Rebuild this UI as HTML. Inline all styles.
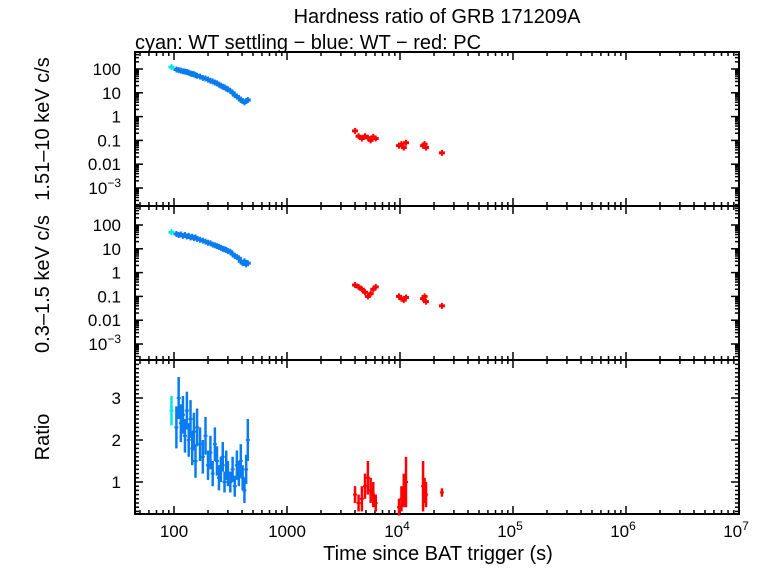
<!DOCTYPE html>
<html><head><meta charset="utf-8"><style>
body{margin:0;background:#fff}
svg text{font-family:"Liberation Sans",sans-serif;fill:#000}
</style></head><body>
<svg id="c" width="768" height="566" xmlns="http://www.w3.org/2000/svg">
<rect width="768" height="566" fill="#fff"/>
<text x="437" y="23" font-size="20" text-anchor="middle">Hardness ratio of GRB 171209A</text>
<text x="135" y="49" font-size="20">cyan: WT settling − blue: WT − red: PC</text>
<text transform="translate(49,129) rotate(-90)" font-size="20" text-anchor="middle">1.51–10 keV c/s</text>
<text transform="translate(49,284) rotate(-90)" font-size="20" text-anchor="middle">0.3–1.5 keV c/s</text>
<text transform="translate(49,437) rotate(-90)" font-size="20" text-anchor="middle">Ratio</text>
<text x="438" y="560" font-size="20" text-anchor="middle">Time since BAT trigger (s)</text>
<g id="g"></g>
</svg>
<script>
const cyanT=[95];
const cyanHard=[120];
const cyanSoft=[50];
const cyanRatio=[2.7];
const cyanRatioErr=[0.35];
const wtT=[105,110,115,120,125,130,135,140,145,150,155,160,170,180,190,200,210,220,230,240,250,260,270,280,290,300,315,330,345,360,375,390,405,420,435,450];
const wtHard=[95,90,85,80,78,75,70,65,62,60,55,52,48,42,40,36,32,30,27,25,22,20,18,17,15,14,12,10,8,7,6,5,4.5,4,4.5,5];
const wtSoft=[42,38,40,35,38,33,35,30,32,28,30,26,24,22,20,18,17,15,14,13,12,11,10,9.5,9,8,7.5,6,5,4.5,4,3,2.5,3,2.2,2.5];
const wtRatio=[2.3,3.0,2.4,2.6,2.1,2.7,2.0,2.5,1.8,2.2,1.5,2.3,1.9,1.6,2.1,1.4,1.7,1.2,1.9,1.5,1.1,1.3,1.6,1.0,1.4,1.2,1.0,1.3,0.9,1.4,1.2,1.5,1.1,0.8,1.3,2.0];
const wtRatioErr=[0.5,0.5,0.45,0.45,0.4,0.45,0.4,0.45,0.4,0.45,0.4,0.45,0.4,0.4,0.45,0.35,0.4,0.3,0.4,0.35,0.3,0.3,0.35,0.25,0.35,0.3,0.25,0.3,0.25,0.35,0.3,0.4,0.3,0.3,0.35,0.5];
const pcT=[4000,4300,4600,4900,5200,5500,5800,6100,9800,10300,10800,11300,16000,16500,17000,23500];
const pcHard=[.25,.15,.12,.15,.13,.1,.14,.12,.06,.07,.05,.08,.06,.07,.05,.03];
const pcSoft=[.3,.25,.2,.15,.1,.13,.2,.25,.1,.08,.07,.09,.08,.1,.06,.04];
const pcRatio=[.7,.5,.6,.9,1.1,.8,.7,.5,.4,.6,.8,1.0,.9,.8,.7,.75];
const pcRatioErr=[.2,.2,.3,.3,.4,.3,.3,.2,.2,.3,.4,.6,.6,.3,.3,.1];
const xTickLabels=["100","1000","10^4","10^5","10^6","10^7"];
const countTickLabels=["100","10","1","0.1","0.01","10^−3"];
const ratioTickLabels=["1","2","3"];

const L=135,R=739,NS="http://www.w3.org/2000/svg";
const xs=t=>174+(Math.log10(t)-2)*113;
const panels=[{top:52,bot:206,y100:69},{top:206,bot:360,y100:225}];
const ylog=(p,v)=>p.y100+(2-Math.log10(v))*23.8;
const yr=v=>482-(v-1)*42;
const g=document.getElementById('g');
function el(tag,a,name){const e=document.createElementNS(NS,tag);for(const k in a)e.setAttribute(k,a[k]);


g.appendChild(e);return e;}
function line(x1,y1,x2,y2,c,w,name){return el('line',{x1,y1,x2,y2,stroke:c,'stroke-width':w},name);}
function label(x,y,s,anchor,name){const t=el('text',{x,y,'font-size':17,'text-anchor':anchor},name);
const m=s.split('^');t.textContent=m[0];if(m[1]){const ts=document.createElementNS(NS,'tspan');ts.setAttribute('font-size','12');ts.setAttribute('dy','-7');ts.textContent=m[1];t.appendChild(ts);}return t;}
const frames=[[52,206],[206,360],[360,514]];
frames.forEach(([a,b],pi)=>{
  for(let d=1;d<=7;d++)for(let m=1;m<10;m++){const t=m*Math.pow(10,d);const x=xs(t);if(x<L||x>R)continue;
    const len=m==1?8:4;line(x,b,x,b-len,'#000',1.5,'x-tick');line(x,a,x,a+len,'#000',1.5,'x-tick');}
});
xTickLabels.forEach((s,i)=>{const x=xs(Math.pow(10,i+2));label(x+(s.includes('^')?-3:0),537,s,'middle','x-tick-label');});
panels.forEach((p,pi)=>{
  for(let e=-4;e<=3;e++)for(let m=1;m<10;m++){const v=m*Math.pow(10,e);const y=ylog(p,v);if(y<p.top||y>p.bot)continue;
    const len=m==1?8:4;line(L,y,L+len,y,'#000',1.5,'y-tick');line(R,y,R-len,y,'#000',1.5,'y-tick');}
  countTickLabels.forEach((s,i)=>label(121,ylog(p,Math.pow(10,2-i))+6,s,'end','y-tick-label'));
});
for(let v=0.3;v<=3.9;v+=0.1){const y=yr(v);const maj=Math.abs(v-Math.round(v))<0.01;const len=maj?8:4;
 line(L,y,L+len,y,'#000',1.5,'ratio-tick');line(R,y,R-len,y,'#000',1.5,'ratio-tick');}
ratioTickLabels.forEach(s=>label(121,yr(+s)+6,s,'end','ratio-tick-label'));
frames.forEach(([a,b])=>el('rect',{x:L,y:a,width:R-L,height:b-a,fill:'none',stroke:'#000','stroke-width':2},'panel-frame'));
function series(T,H,S,Ra,E,c,nm){
  T.forEach((t,i)=>{const x=xs(t);
    [[panels[0],H[i]],[panels[1],S[i]]].forEach(([p,v])=>{const y=ylog(p,v);
      line(x-3,y,x+3,y,c,3,nm+'-rate-point');line(x,y-3,x,y+3,c,2,nm+'-rate-errorbar');});
    line(x,yr(Ra[i]-E[i]),x,yr(Ra[i]+E[i]),c,2.5,nm+'-ratio-errorbar');
    line(x-2,yr(Ra[i]),x+2,yr(Ra[i]),c,2,nm+'-ratio-point');
  });
}
series(wtT,wtHard,wtSoft,wtRatio,wtRatioErr,'#0a7cf0','wt');
series(cyanT,cyanHard,cyanSoft,cyanRatio,cyanRatioErr,'#00e5ee','wt-settling');
series(pcT,pcHard,pcSoft,pcRatio,pcRatioErr,'#f00','pc');
</script>
</body></html>
